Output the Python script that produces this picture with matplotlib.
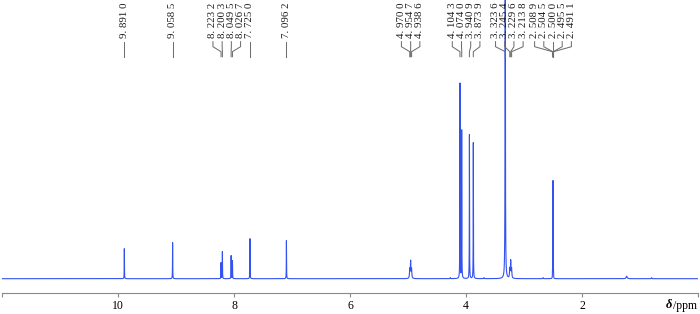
import numpy as np
import matplotlib
matplotlib.use("Agg")
import matplotlib.pyplot as plt
from matplotlib.transforms import blended_transform_factory

# ---- data ----
peak_ppm = [9.8910, 9.0585, 8.2232, 8.2003, 8.0495, 8.0267, 7.7250, 7.0962,
            4.9700, 4.9547, 4.9386, 4.1043, 4.0740, 3.9409, 3.8739, 3.3236,
            3.2454, 3.2296, 3.2138, 2.5089, 2.5045, 2.5000, 2.4955, 2.4911,
            1.2300, 4.2700, 3.6900, 2.6700, 0.8000]
peak_height = [30, 36, 16, 27, 23, 18, 40, 38,
               9, 17, 9, 195, 148, 144, 136, 420,
               9, 17, 9, 6, 29, 95, 16, 6,
               2.5, 1.0, 1.0, 1.0, 1.0]
peak_hwhm = [0.002, 0.002, 0.002, 0.002, 0.002, 0.002, 0.002, 0.002,
             0.005, 0.005, 0.005, 0.002, 0.002, 0.002, 0.002, 0.003,
             0.005, 0.005, 0.005, 0.0012, 0.0012, 0.0012, 0.0012, 0.0012,
             0.01, 0.004, 0.004, 0.004, 0.004]

label_ppm = [9.8910, 9.0585, 8.2232, 8.2003, 8.0495, 8.0267, 7.7250, 7.0962,
             4.9700, 4.9547, 4.9386, 4.1043, 4.0740, 3.9409, 3.8739, 3.3236,
             3.2454, 3.2296, 3.2138, 2.5089, 2.5045, 2.5000, 2.4955, 2.4911]

xticks = [12, 10, 8, 6, 4, 2, 0]
xtick_labels = ["", "10", "8", "6", "4", "2", ""]

# ---- figure ----
W, H, DPI = 700, 314, 100
fig = plt.figure(figsize=(W / DPI, H / DPI), dpi=DPI)
ax_left, ax_right = 2, 698
ax_bottom_px = 292.7
ax = fig.add_axes([ax_left / W, (H - ax_bottom_px) / H,
                   (ax_right - ax_left) / W, ax_bottom_px / H])

x = np.linspace(12, 0, 120001)
y = np.zeros_like(x)
for p, h, w in zip(peak_ppm, peak_height, peak_hwhm):
    y += h * w ** 2 / ((x - p) ** 2 + w ** 2)

ax.plot(x, y, color="#3352f0", lw=0.8)
ax.set_xlim(12, 0)
ax.set_ylim(-14, ax_bottom_px - 14)

for s in ["top", "left", "right"]:
    ax.spines[s].set_visible(False)
ax.spines["bottom"].set_color("#8a8a8a")
ax.spines["bottom"].set_linewidth(0.8)
ax.set_yticks([])
ax.set_xticks(xticks)
ax.set_xticklabels(xtick_labels, fontfamily="Liberation Serif", fontsize=8.5)
ax.tick_params(axis="x", direction="out", length=3, width=0.8,
               color="#8a8a8a", pad=2.5)

fig.text(669 / W, 1 - 305.5 / H, "δ", fontfamily="Liberation Serif",
         fontstyle="italic", fontweight="bold", fontsize=9, ha="center", va="center")
fig.text(673 / W, 1 - 305.5 / H, "/ppm", fontfamily="Liberation Serif",
         fontsize=8.5, ha="left", va="center")

# ---- peak labels with leader lines ----
def ppm_to_px(p):
    return ax_left + (12 - p) * (ax_right - ax_left) / 12.0

def px_to_ppm(px):
    return 12 - (px - ax_left) * 12.0 / (ax_right - ax_left)

ideal = [ppm_to_px(p) for p in label_ppm]
order = np.argsort(ideal)
d = 9.2
groups = [[i] for i in order]
changed = True
while changed:
    changed = False
    new = []
    for g in groups:
        if new:
            prev = new[-1]
            cp = np.mean([ideal[i] for i in prev])
            cg = np.mean([ideal[i] for i in g])
            rp = cp + (len(prev) - 1) * d / 2
            lg = cg - (len(g) - 1) * d / 2
            if rp + d > lg:
                new[-1] = prev + g
                changed = True
                continue
        new.append(g)
    groups = new
label_px = [0.0] * len(label_ppm)
for g in groups:
    c = np.mean([ideal[i] for i in g])
    for k, i in enumerate(g):
        label_px[i] = c + (k - (len(g) - 1) / 2) * d

tr = blended_transform_factory(ax.transData, fig.transFigure)

def fy(py):
    return 1 - py / H

def fmt(p):
    s = f"{p:.4f}"
    a, b = s.split(".")
    return f"{a}. {b[:3]} {b[3]}"

for p, lp in zip(label_ppm, label_px):
    lx = px_to_ppm(lp)
    ax.text(lx, fy(37.5), fmt(p), transform=tr, rotation=90, ha="center",
            va="bottom", fontsize=7.8, fontfamily="Liberation Serif",
            color="#1a1a1a", clip_on=False)
    ax.plot([lx, lx, p, p], [fy(41.7), fy(46.7), fy(51.7), fy(56.7)],
            transform=tr, color="#707070", lw=0.75, clip_on=False)

fig.savefig("out.png", dpi=DPI)
